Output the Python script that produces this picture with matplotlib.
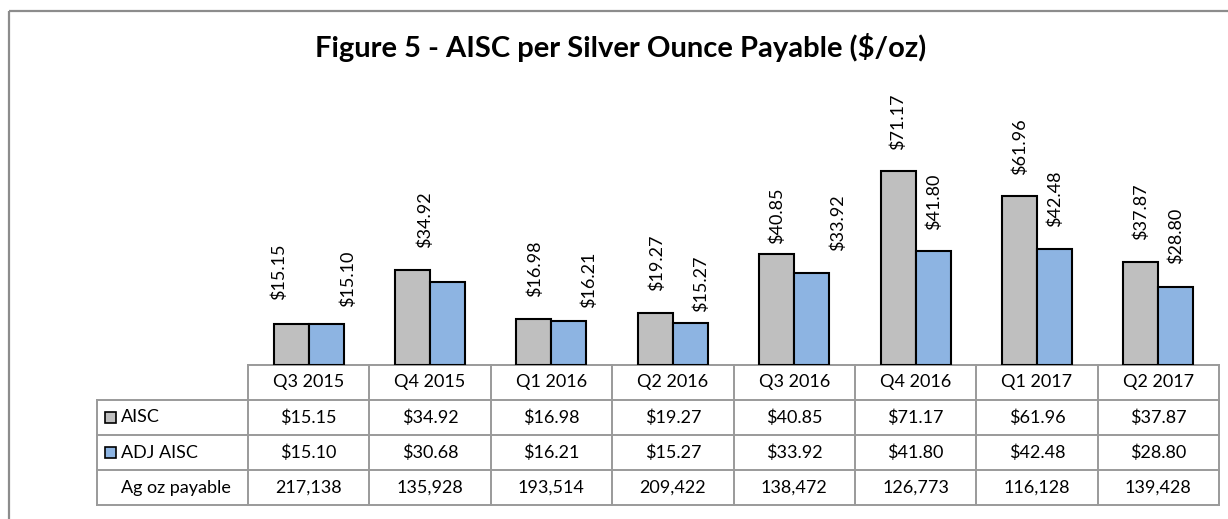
import matplotlib
matplotlib.use("Agg")
import matplotlib.pyplot as plt
from matplotlib.patches import Rectangle
import numpy as np

plt.rcParams['font.family'] = ['Lato', 'DejaVu Sans']

# ---- data ----
quarters = ["Q3 2015", "Q4 2015", "Q1 2016", "Q2 2016", "Q3 2016", "Q4 2016", "Q1 2017", "Q2 2017"]
aisc = [15.15, 34.92, 16.98, 19.27, 40.85, 71.17, 61.96, 37.87]
adj_aisc = [15.10, 30.68, 16.21, 15.27, 33.92, 41.80, 42.48, 28.80]
ag_oz_payable = [217138, 135928, 193514, 209422, 138472, 126773, 116128, 139428]
series_names = ["AISC", "ADJ AISC", "Ag oz payable"]
title = "Figure 5 - AISC per Silver Ounce Payable ($/oz)"

# label display (which data labels appear on the chart)
adj_label_shown = [True, False, True, True, True, True, True, True]

# label placement tweaks (pixels)
aisc_dx = [-12, 12, 1, 1, 0, 0, 0, 0]
aisc_gap = [24, 22, 22, 22, 10, 21, 21, 22]
adj_dx = [22, 0, 20, 11, 26, 1, 0, 0]
adj_gap = [17, 0, 13, 11, 22, 21, 22, 23]

# ---- styling ----
W, H = 1228, 519
c_aisc = "#BFBFBF"
c_adj = "#8DB4E2"
grid_c = "#9A9A9A"
fs = 13

fig = plt.figure(figsize=(W / 100, H / 100), dpi=100)

# overlay axes in pixel coordinates
ov = fig.add_axes([0, 0, 1, 1])
ov.set_xlim(0, W)
ov.set_ylim(H, 0)
ov.axis('off')
ov.set_zorder(0)

# chart border
ov.add_patch(Rectangle((9, 11), 1300, 600, fill=False, edgecolor="#8C8C8C", lw=1.6))

# title
ov.text(621, 47, title, ha='center', va='center', fontsize=21, fontweight='bold')

# table geometry
x_left = 248
x_right = 1219
lab_left = 97
y_rows = [365, 400, 435, 470, 505]
ncol = len(quarters)
colw = (x_right - x_left) / ncol

# bar axes
base_y = 365
px_per_unit = 2.72
ymax = 80
top_y = base_y - ymax * px_per_unit
ax = fig.add_axes([x_left / W, 1 - base_y / H, (x_right - x_left) / W, (base_y - top_y) / H])
ax.set_zorder(1)
ax.patch.set_alpha(0)
ax.set_xlim(-0.5, ncol - 0.5)
ax.set_ylim(0, ymax)
ax.axis('off')

x = np.arange(ncol)
bw = 0.288
ax.bar(x - bw / 2, aisc, bw, color=c_aisc, edgecolor='black', lw=1.5, zorder=3)
ax.bar(x + bw / 2, adj_aisc, bw, color=c_adj, edgecolor='black', lw=1.5, zorder=3)

for i in range(ncol):
    ax.annotate(f"${aisc[i]:.2f}", xy=(x[i] - bw / 2, aisc[i]), xytext=(aisc_dx[i], aisc_gap[i]),
                textcoords='offset pixels', rotation=90, ha='center', va='bottom',
                fontsize=fs, annotation_clip=False)
    if adj_label_shown[i]:
        ax.annotate(f"${adj_aisc[i]:.2f}", xy=(x[i] + bw / 2, adj_aisc[i]), xytext=(adj_dx[i], adj_gap[i]),
                    textcoords='offset pixels', rotation=90, ha='center', va='bottom',
                    fontsize=fs, annotation_clip=False)

# table lines
lw_t = 1.4
ov.plot([x_left, x_right], [y_rows[0], y_rows[0]], color=grid_c, lw=lw_t)
for yy in y_rows[1:]:
    ov.plot([lab_left, x_right], [yy, yy], color=grid_c, lw=lw_t)
ov.plot([lab_left, lab_left], [y_rows[1], y_rows[-1]], color=grid_c, lw=lw_t)
for j in range(ncol + 1):
    xx = x_left + j * colw
    ov.plot([xx, xx], [y_rows[0], y_rows[-1]], color=grid_c, lw=lw_t)

# table text
row_vals = [
    [f"${v:.2f}" for v in aisc],
    [f"${v:.2f}" for v in adj_aisc],
    [f"{v:,}" for v in ag_oz_payable],
]
for j, q in enumerate(quarters):
    cx = x_left + (j + 0.5) * colw
    ov.text(cx, (y_rows[0] + y_rows[1]) / 2, q, ha='center', va='center', fontsize=fs)
    for r in range(3):
        cy = (y_rows[r + 1] + y_rows[r + 2]) / 2
        ov.text(cx, cy, row_vals[r][j], ha='center', va='center', fontsize=fs)

# row labels with legend keys
key_colors = [c_aisc, c_adj, None]
for r in range(3):
    cy = (y_rows[r + 1] + y_rows[r + 2]) / 2
    if key_colors[r] is not None:
        ov.add_patch(Rectangle((105, cy - 5.5), 11, 11, facecolor=key_colors[r], edgecolor='black', lw=1.2))
    ov.text(121, cy, series_names[r], ha='left', va='center', fontsize=fs)

fig.savefig("out.png", dpi=100)
